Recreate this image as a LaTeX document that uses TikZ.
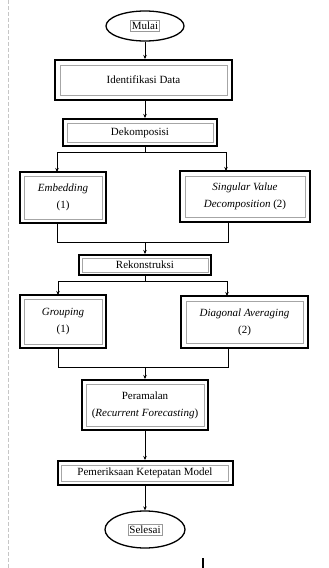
\documentclass[tikz,border=0pt]{standalone}
\usepackage{fontspec}
\setmainfont{Liberation Serif}
\usetikzlibrary{shapes.geometric,arrows.meta}
\begin{document}
\begin{tikzpicture}[x=1pt,y=-1pt,
  font=\fontsize{11}{17}\selectfont,
  proc/.style={draw,line width=2pt,inner sep=0pt,align=center,minimum width=#1},
  term/.style={draw,ellipse,line width=1.3pt,inner sep=0pt},
  tframe/.style={draw=gray!80,line width=0.5pt,inner sep=1.5pt},
  conn/.style={line width=0.7pt},
  arr/.style={conn,-{Stealth[length=4pt,width=3.5pt]}},
  inbox/.style={draw=gray!70,line width=0.5pt}]
\useasboundingbox (0,0) rectangle (329,568);
\fill[white] (0,0) rectangle (329,568);
\draw[gray!45,line width=1pt,dash pattern=on 4pt off 2pt] (8.5,0) -- (8.5,568);

\newcommand{\innerframe}[2]{\draw[inbox] ([shift={(#2,#2)}]#1.north west) rectangle ([shift={(-#2,-#2)}]#1.south east);}

% terminals
\node[term,minimum width=78,minimum height=30] (mulai) at (145,26) {};
\node[tframe] (mulaitxt) at (145,26) {Mulai};

\node[proc={177},minimum height=40] (ident) at (143.5,80) {Identifikasi Data};
\innerframe{ident}{6}
\node[proc={154},minimum height=27] (dek) at (140,132.5) {Dekomposisi};
\innerframe{dek}{5}

\node[proc={86},minimum height=51] (emb) at (63,197.5) {\textit{Embedding}\\(1)};
\innerframe{emb}{5}
\node[proc={130},minimum height=51] (svd) at (245,196.5) {\textit{Singular Value}\\\textit{Decomposition} (2)};
\innerframe{svd}{6}

\node[proc={132},minimum height=20] (rek) at (145,265) {Rekonstruksi};
\innerframe{rek}{4}

\node[proc={86},minimum height=53] (grp) at (63,321.5) {\textit{Grouping}\\(1)};
\innerframe{grp}{5}
\node[proc={127},minimum height=52] (diag) at (244.5,322) {\textit{Diagonal Averaging}\\(2)};
\innerframe{diag}{6}

\node[proc={126},minimum height=50] (peram) at (145,405) {Peramalan\\(\textit{Recurrent Forecasting})};
\innerframe{peram}{5}

\node[proc={175},minimum height=24] (cek) at (145,473) {Pemeriksaan Ketepatan Model};
\innerframe{cek}{5}

\node[term,minimum width=80,minimum height=37] (sel) at (145,529.5) {};
\node[tframe] (seltxt) at (145,529.5) {Selesai};

% split/merge points
\coordinate (s1) at (145,152);
\coordinate (m1) at (145,242);
\coordinate (s2) at (145,281);
\coordinate (m2) at (145,367);

% connectors
\draw[arr] (mulai.south) -- (mulai.south |- ident.north);
\draw[arr] (mulai.south |- ident.south) -- (mulai.south |- dek.north);
\draw[conn] (mulai.south |- dek.south) -- (s1);
\draw[conn] (57,152) -- (226,152);
\draw[arr] (57,152) -- (57,172);
\draw[arr] (226,152) -- (226,171);
\draw[conn] (57,223) -- (57,242) -- (228,242) -- (228,222);
\draw[arr] (m1) -- (rek.north);
\draw[conn] (rek.south) -- (s2);
\draw[conn] (58,281) -- (227,281);
\draw[arr] (58,281) -- (58,295);
\draw[arr] (227,281) -- (227,296);
\draw[conn] (58,348) -- (58,367) -- (228,367) -- (228,348);
\draw[arr] (m2) -- (peram.north);
\draw[arr] (peram.south) -- (cek.north);
\draw[arr] (cek.south) -- (sel.north);

\draw[line width=1.2pt] (203,558) -- (203,568);
\end{tikzpicture}
\end{document}
